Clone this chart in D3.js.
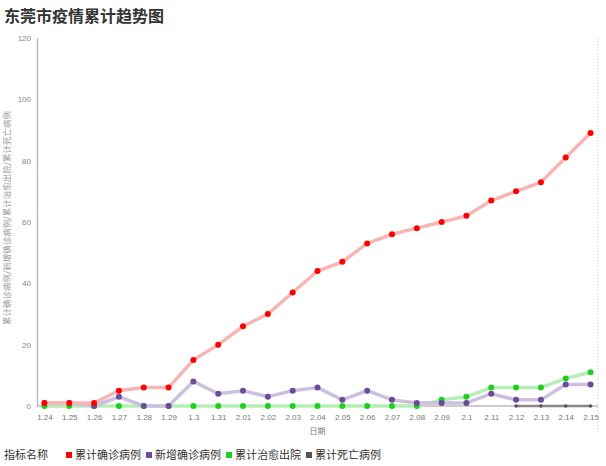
<!DOCTYPE html>
<html><head><meta charset="utf-8">
<script src="https://cdn.jsdelivr.net/npm/d3@7"></script>
<style>body{margin:0;background:#fff;font-family:"Noto Sans CJK SC",sans-serif}</style>
</head><body><div id="chart"></div>
<script>
const dates = ['1.24','1.25','1.26','1.27','1.28','1.29','1.3','1.31','2.01','2.02','2.03','2.04','2.05','2.06','2.07','2.08','2.09','2.1','2.11','2.12','2.13','2.14','2.15']
const confirmed = [1,1,1,5,6,6,15,20,26,30,37,44,47,53,56,58,60,62,67,70,73,81,89]
const newCases = [1,1,0,3,0,0,8,4,5,3,5,6,2,5,2,1,1,1,4,2,2,7,7]
const cured = [0,0,0,0,0,0,0,0,0,0,0,0,0,0,0,0,2,3,6,6,6,9,11]
const deaths = [null,null,null,null,null,null,null,null,null,null,null,null,null,null,null,null,null,null,null,0,0,0,0]
const yTicks = [0,20,40,60,80,100,120]

const series = [
  {name:'累计确诊病例', values:confirmed, color:'#f00', line:'#f9b4b4'},
  {name:'新增确诊病例', values:newCases, color:'#6a4c9c', line:'#cdbfe0'},
  {name:'累计治愈出院', values:cured, color:'#1fcf1f', line:'#b5efb5'},
  {name:'累计死亡病例', values:deaths, color:'#555', line:'#888'}
]

const svg = d3.select('#chart').append('svg').attr('width',606).attr('height',466)
const m = {l:37, r:598, t:38, b:406}

svg.append('text').attr('x',4).attr('y',22).text('东莞市疫情累计趋势图')
  .attr('font-size',16).attr('font-weight','bold').attr('fill','#333')

const x = d3.scalePoint().domain(dates).range([m.l,m.r]).padding(0.3)
const y = d3.scaleLinear().domain([0,120]).range([m.b,m.t])

// right dotted border
svg.append('line').attr('x1',m.r).attr('x2',m.r).attr('y1',m.t).attr('y2',m.b+28)
  .attr('stroke','#ccc').attr('stroke-dasharray','1,2')

const ya = svg.append('g').attr('transform',`translate(${m.l},0)`)
  .call(d3.axisLeft(y).tickValues(yTicks).tickSize(0).tickPadding(6))
ya.select('.domain').attr('stroke','#bbb').attr('stroke-width',1.5)
ya.selectAll('text').attr('fill','#888').attr('font-size',8).attr('font-family','Liberation Sans')

const xa = svg.append('g').attr('transform',`translate(0,${m.b})`)
  .call(d3.axisBottom(x).tickSize(0).tickPadding(8))
xa.select('.domain').attr('stroke','#bbb').attr('stroke-width',1.5).attr('d',`M${m.l},0H${m.r}`)
xa.selectAll('text').attr('fill','#777').attr('font-size',8).attr('font-family','Liberation Sans')

svg.append('text').attr('x',(m.l+m.r)/2).attr('y',434).attr('text-anchor','middle')
  .attr('font-size',8).attr('fill','#777').text('日期')
svg.append('text').attr('transform',`translate(10,218) rotate(-90)`)
  .attr('text-anchor','middle').attr('font-size',8.5).attr('fill','#999')
  .text('累计确诊病例/新增确诊病例/累计治愈出院/累计死亡病例')

const line = d3.line().defined(d=>d!=null).x((d,i)=>x(dates[i])).y(d=>y(d))
series.slice().reverse().forEach(s=>{
  svg.append('path').datum(s.values).attr('d',line).attr('fill','none')
    .attr('stroke',s.line).attr('stroke-width',s.values===deaths?2.5:3.5)
  svg.selectAll(null).data(s.values.map((v,i)=>({v,i})).filter(d=>d.v!=null)).enter()
    .append('circle').attr('cx',d=>x(dates[d.i])).attr('cy',d=>y(d.v))
    .attr('r',s.values===deaths?1.8:3).attr('fill',s.color)
})

const lg = svg.append('g').attr('transform','translate(4,455)')
lg.append('text').attr('y',4).attr('font-size',11).attr('fill','#333').text('指标名称')
let lx = 62
series.forEach(s=>{
  lg.append('rect').attr('x',lx).attr('y',-3).attr('width',6).attr('height',6).attr('fill',s.color)
  lg.append('text').attr('x',lx+9).attr('y',4).attr('font-size',11).attr('fill','#333').text(s.name)
  lx += 80
})
</script></body></html>
